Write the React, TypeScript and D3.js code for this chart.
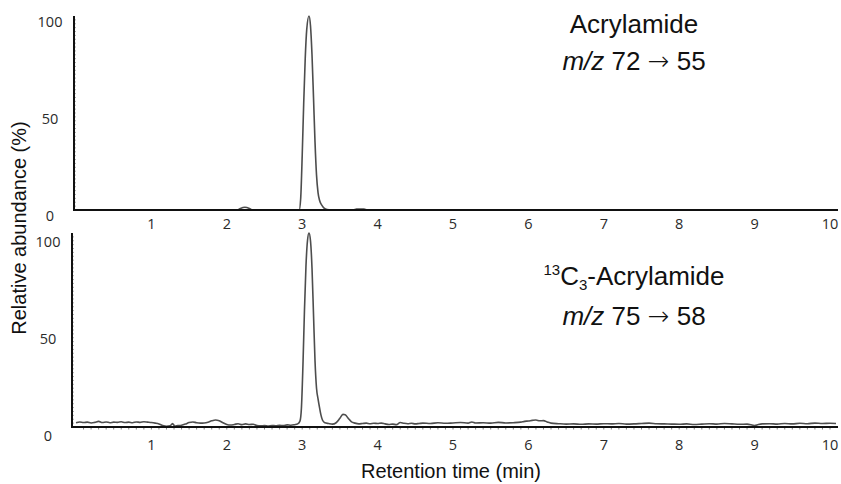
import React from 'react';
import * as d3 from 'd3';

const xTickValues = [1, 2, 3, 4, 5, 6, 7, 8, 9, 10];
const yTickValues = [0, 50, 100];
const xAxisTitle = 'Retention time (min)';
const yAxisTitle = 'Relative abundance (%)';

// Acrylamide m/z 72 -> 55 : [time (min), relative abundance (%)]
const acrylamideTrace: [number, number][] = [
  [0, 0], [2.14, 0], [2.18, 0.8], [2.24, 1.4], [2.3, 0.8], [2.34, 0],
  [2.96, 0], [2.98, 6], [3.0, 28], [3.02, 55], [3.04, 78], [3.06, 93], [3.09, 100],
  [3.11, 95], [3.13, 80], [3.15, 58], [3.17, 35], [3.19, 18], [3.21, 9], [3.23, 5],
  [3.26, 2.5], [3.29, 1], [3.33, 0.2], [3.38, 0],
  [3.68, 0], [3.72, 0.5], [3.82, 0.5], [3.86, 0], [10.1, 0],
];

// 13C3-Acrylamide m/z 75 -> 58
const labeledTrace: [number, number][] = [
  [0.0, 2.2], [0.05, 2.6], [0.1, 2.3], [0.15, 2.5], [0.2, 2.1], [0.25, 2.4], [0.3, 2.9],
  [0.35, 2.3], [0.4, 2.6], [0.45, 2.2], [0.5, 2.5], [0.55, 2.4], [0.6, 2.7], [0.65, 2.3],
  [0.7, 2.5], [0.75, 2.2], [0.8, 2.6], [0.85, 2.4], [0.9, 2.7], [0.95, 2.5], [1.0, 2.3],
  [1.05, 2.0], [1.1, 1.6], [1.15, 0.8], [1.2, 0.4], [1.25, 0.6], [1.28, 1.8], [1.31, 0.5],
  [1.35, 0.7], [1.4, 0.9], [1.45, 1.5], [1.5, 2.3], [1.55, 2.6], [1.6, 2.2], [1.65, 2.0],
  [1.7, 2.1], [1.75, 2.5], [1.8, 3.2], [1.85, 3.6], [1.9, 3.2], [1.95, 2.2], [2.0, 1.3],
  [2.05, 1.0], [2.1, 1.3], [2.15, 1.7], [2.2, 1.2], [2.25, 1.6], [2.3, 1.3], [2.35, 1.4],
  [2.4, 0.8], [2.45, 0.6], [2.5, 0.7], [2.55, 0.5], [2.6, 0.8], [2.65, 0.6], [2.7, 0.9],
  [2.75, 0.7], [2.8, 1.1], [2.85, 0.9], [2.9, 1.2], [2.94, 1.6], [2.97, 3], [2.99, 10],
  [3.01, 32], [3.03, 60], [3.05, 83], [3.07, 96], [3.09, 100], [3.11, 96], [3.13, 82],
  [3.15, 58], [3.17, 34], [3.19, 20], [3.21, 14.5], [3.23, 10], [3.25, 6], [3.27, 3.5],
  [3.3, 2.2], [3.35, 1.8], [3.4, 1.5], [3.45, 2.2], [3.5, 4.5], [3.54, 6.5], [3.57, 6.3],
  [3.61, 4.5], [3.65, 2.8], [3.7, 2.0], [3.75, 1.6], [3.8, 1.8], [3.85, 2.0], [3.9, 1.7],
  [3.95, 1.9], [4.0, 1.8], [4.05, 2.0], [4.1, 1.6], [4.15, 1.3], [4.2, 1.5], [4.25, 1.2],
  [4.3, 2.3], [4.35, 1.9], [4.4, 1.7], [4.45, 1.9], [4.5, 1.6], [4.55, 1.8], [4.6, 2.0],
  [4.7, 1.8], [4.8, 2.2], [4.9, 1.9], [5.0, 2.1], [5.1, 2.3], [5.2, 2.0], [5.25, 2.6],
  [5.3, 2.1], [5.4, 2.2], [5.5, 2.0], [5.6, 2.4], [5.7, 2.1], [5.8, 2.2], [5.9, 2.5],
  [5.95, 2.9], [6.0, 3.1], [6.05, 3.4], [6.1, 3.6], [6.15, 3.2], [6.2, 3.3], [6.25, 2.6],
  [6.3, 2.0], [6.4, 1.7], [6.5, 1.5], [6.6, 1.6], [6.7, 1.4], [6.8, 1.6], [6.9, 1.5],
  [7.0, 1.7], [7.1, 1.6], [7.2, 1.8], [7.3, 1.5], [7.4, 1.6], [7.5, 1.8], [7.6, 2.0],
  [7.7, 1.7], [7.8, 1.6], [7.9, 1.5], [8.0, 1.4], [8.1, 1.6], [8.2, 1.3], [8.3, 1.5],
  [8.4, 1.7], [8.5, 1.5], [8.6, 1.8], [8.7, 1.6], [8.8, 1.4], [8.9, 1.5], [9.0, 0.8],
  [9.05, 1.3], [9.1, 1.6], [9.2, 1.7], [9.3, 1.5], [9.4, 1.8], [9.5, 1.6], [9.6, 1.9],
  [9.7, 1.7], [9.8, 2.0], [9.9, 1.8], [10.0, 1.9], [10.08, 1.8],
];

const W = 841;
const H = 484;
const tickFont = '"Open Sans", "DejaVu Sans", sans-serif';
const titleFont = '"Liberation Sans", Arial, sans-serif';
const arrowFont = '"DejaVu Sans", sans-serif';

const x = d3.scaleLinear().domain([0, 10]).range([76, 830]);
const minorX = d3.range(1, 101).map((i) => i / 10);
const minorY = d3.range(2, 100, 2);

type Panel = {
  data: [number, number][];
  top: number;
  base: number;
  axisX: number;
  yLabelX: number;
  yLabelDy: number;
  xLabelY: number;
  xMinor: boolean;
};

const panels: Panel[] = [
  { data: acrylamideTrace, top: 16, base: 210, axisX: 74, yLabelX: 50, yLabelDy: 7.5, xLabelY: 225, xMinor: false },
  { data: labeledTrace, top: 233, base: 427, axisX: 72, yLabelX: 48, yLabelDy: 10, xLabelY: 446, xMinor: true },
];

function ChromPanel({ p }: { p: Panel }) {
  const y = d3.scaleLinear().domain([0, 100]).range([p.base, p.top]);
  const line = d3
    .line<[number, number]>()
    .x((d) => x(d[0]))
    .y((d) => y(d[1]))
    .curve(d3.curveMonotoneX);
  return (
    <g>
      {minorY.map((v) => (
        <line key={'my' + v} x1={p.axisX} x2={p.axisX + 2} y1={y(v)} y2={y(v)} stroke="#888" strokeWidth={0.7} />
      ))}
      {p.xMinor &&
        minorX.map((v) => (
          <line key={'mx' + v} x1={x(v)} x2={x(v)} y1={p.base} y2={p.base + 2.5} stroke="#666" strokeWidth={0.8} />
        ))}
      <path d={line(p.data) || ''} fill="none" stroke="#4d4d4d" strokeWidth={1.6} strokeLinejoin="round" />
      <line x1={p.axisX} x2={p.axisX} y1={p.top} y2={p.base + 1} stroke="#111" strokeWidth={2} />
      <line x1={p.axisX} x2={838} y1={p.base} y2={p.base} stroke="#111" strokeWidth={2} />
      {yTickValues.map((v) => (
        <text
          key={'yl' + v}
          x={p.yLabelX}
          y={y(v) + p.yLabelDy}
          textAnchor="middle"
          dominantBaseline="middle"
          fontFamily={tickFont}
          fontSize={14.5}
          fill="#2a2a2a"
        >
          {v}
        </text>
      ))}
      {xTickValues.map((v) => (
        <text
          key={'xl' + v}
          x={x(v)}
          y={p.xLabelY}
          textAnchor="middle"
          dominantBaseline="middle"
          fontFamily={tickFont}
          fontSize={14.5}
          fill="#2a2a2a"
        >
          {v}
        </text>
      ))}
    </g>
  );
}

export default function App() {
  return (
    <svg
      width={W}
      height={H}
      viewBox={`0 0 ${W} ${H}`}
      style={{ position: 'absolute', left: 0, top: 0, background: '#fff' }}
    >
      <rect width={W} height={H} fill="#fff" />
      {panels.map((p, i) => (
        <ChromPanel key={i} p={p} />
      ))}

      <g fontFamily={titleFont} fill="#111" textAnchor="middle">
        <text x={634} y={33} fontSize={26}>
          Acrylamide
        </text>
        <text x={634} y={70} fontSize={26}>
          <tspan fontStyle="italic">m/z</tspan> 72 <tspan fontFamily={arrowFont} fontWeight={200} fontSize={26}>→</tspan> 55
        </text>
        <text x={634} y={285} fontSize={26}>
          <tspan fontSize={15} dy={-10}>13</tspan>
          <tspan dy={10}>C</tspan>
          <tspan fontSize={15} dy={5}>3</tspan>
          <tspan dy={-5}>-Acrylamide</tspan>
        </text>
        <text x={634} y={325} fontSize={26}>
          <tspan fontStyle="italic">m/z</tspan> 75 <tspan fontFamily={arrowFont} fontWeight={200} fontSize={26}>→</tspan> 58
        </text>
        <text x={451} y={478} fontSize={20}>
          {xAxisTitle}
        </text>
        <text x={26} y={228} fontSize={20} transform="rotate(-90 26 228)">
          {yAxisTitle}
        </text>
      </g>
    </svg>
  );
}
